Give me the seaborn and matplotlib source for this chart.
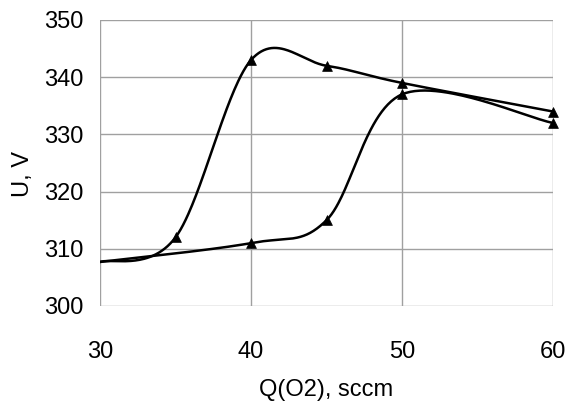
import numpy as np
import pandas as pd
import matplotlib
matplotlib.use("Agg")
import matplotlib.pyplot as plt
import seaborn as sns

# Discharge voltage vs O2 flow (hysteresis, two branches)
q_up = [30, 35, 40, 45, 50, 60]
u_up = [307.7, 312, 343, 342, 339, 334]
q_down = [30, 40, 45, 50, 60]
u_down = [307.7, 311, 315, 337, 332]

x_ticks = [30, 40, 50, 60]
y_ticks = [300, 310, 320, 330, 340, 350]

# pixel scale of the axes, used so the smoothing works in screen space
SX, SY = 451 / 30.0, 286 / 50.0


def excel_smooth(xs, ys, n=60):
    # Catmull-Rom style Bezier smoothing like Excel's "smoothed line"
    p = np.column_stack([np.array(xs) * SX, np.array(ys) * SY])
    pts = np.vstack([p[0], p, p[-1]])
    out = []
    t = np.linspace(0, 1, n)[:, None]
    for i in range(1, len(pts) - 2):
        p0, p1, p2, p3 = pts[i - 1], pts[i], pts[i + 1], pts[i + 2]
        c1 = p1 + (p2 - p0) / 6.0
        c2 = p2 - (p3 - p1) / 6.0
        seg = ((1 - t) ** 3) * p1 + 3 * ((1 - t) ** 2) * t * c1 + 3 * (1 - t) * t ** 2 * c2 + t ** 3 * p2
        out.append(seg if i == 1 else seg[1:])
    out = np.vstack(out)
    return out[:, 0] / SX, out[:, 1] / SY


sns.set_style("white")
plt.rcParams['font.family'] = ['Liberation Sans', 'DejaVu Sans']
plt.rcParams['text.color'] = 'black'
plt.rcParams['axes.labelcolor'] = 'black'

fig = plt.figure(figsize=(5.7, 4.04), dpi=100)
ax = fig.add_axes([100 / 570, 1 - 306 / 404, 453 / 570, 286 / 404])

for xs, ys in [(q_up, u_up), (q_down, u_down)]:
    sx, sy = excel_smooth(xs, ys)
    curve = pd.DataFrame({"q": sx, "u": sy})
    sns.lineplot(data=curve, x="q", y="u", sort=False, color="black", linewidth=1.8, ax=ax, zorder=3)
    pts = pd.DataFrame({"q": xs[1:], "u": ys[1:]})
    sns.scatterplot(data=pts, x="q", y="u", marker="^", color="black", s=50, edgecolor="black",
                    linewidth=0.5, ax=ax, zorder=4, clip_on=False)

ax.set_xlim(30, 60)
ax.set_ylim(300, 350)
ax.set_xticks(x_ticks)
ax.set_yticks(y_ticks)
ax.grid(True, color="#a0a0a0", linewidth=1.0)
for s in ax.spines.values():
    s.set_visible(False)
ax.tick_params(axis="x", direction="out", length=7, width=1.0, color="#a0a0a0", labelcolor="black",
               pad=18, labelsize=17)
ax.tick_params(axis="y", direction="out", length=3, width=1.0, color="#a0a0a0", labelcolor="black",
               pad=9, labelsize=17)
ax.set_xlabel("Q(O2), sccm", fontsize=17, labelpad=12, color="black")
ax.set_ylabel("U, V", fontsize=17, color="black")
ax.yaxis.set_label_coords(-0.145, 0.46)

fig.savefig("out.png", dpi=100)
